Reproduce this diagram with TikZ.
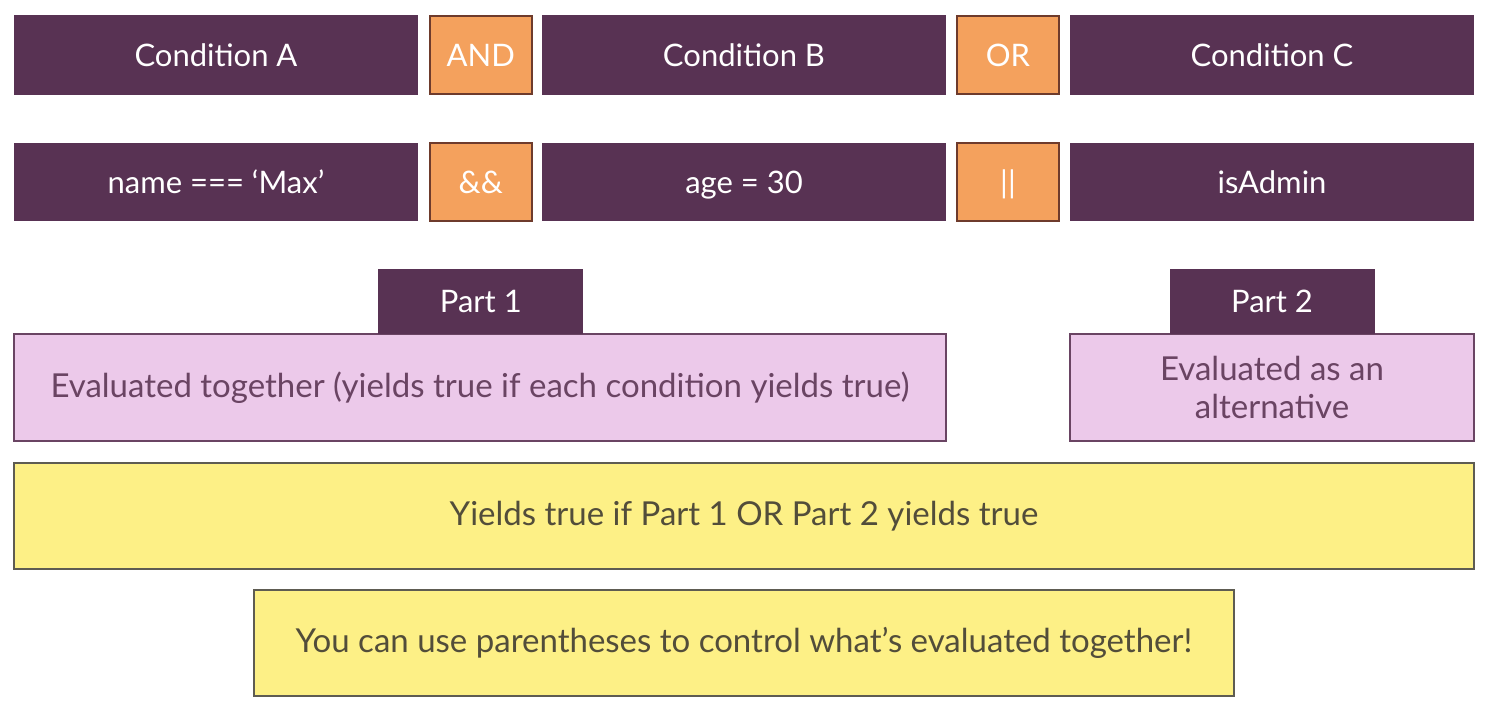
\documentclass[tikz,border=0pt]{standalone}
\usepackage{fontspec}
\setmainfont{Lato}
\usetikzlibrary{positioning}
\definecolor{plum}{HTML}{583253}
\definecolor{apricot}{HTML}{F4A15D}
\definecolor{apricotline}{HTML}{6E3B2C}
\definecolor{lilac}{HTML}{ECC9EA}
\definecolor{lilacline}{HTML}{6A4463}
\definecolor{lemon}{HTML}{FDF086}
\definecolor{lemonline}{HTML}{5E5C52}
\definecolor{lemontext}{HTML}{524D3A}
\tikzset{
	cond/.style={fill=plum, text=white, minimum width=202pt, minimum height=40pt, inner sep=0pt, outer sep=0pt, text height=11.2pt, text depth=0pt, font=\fontsize{15.5}{18}\selectfont},
	op/.style={fill=apricot, draw=apricotline, line width=0.8pt, text=white, minimum width=51pt, minimum height=39pt, inner sep=0pt, outer sep=0pt, text height=11.2pt, text depth=0pt, font=\fontsize{15.5}{18}\selectfont},
	parttab/.style={fill=plum, text=white, minimum width=102.5pt, minimum height=32.5pt, inner sep=0pt, outer sep=0pt, text height=11.2pt, text depth=0pt, font=\fontsize{15.5}{18}\selectfont},
	partbox/.style={fill=lilac, draw=lilacline, line width=0.8pt, text=lilacline, minimum height=53.5pt, inner sep=0pt, outer sep=0pt, align=center, font=\fontsize{16.5}{19}\selectfont},
	note/.style={fill=lemon, draw=lemonline, line width=0.8pt, text=lemontext, minimum height=53pt, inner sep=0pt, outer sep=0pt, font=\fontsize{16.5}{19}\selectfont}
}
\begin{document}
\begin{tikzpicture}[x=0.5pt, y=-0.5pt]
	\useasboundingbox (0,0) rectangle (1489,710);
	% conditions
	\node[cond] (condA) at (216,55) {Condition A};
	\node[op, right=5.9pt of condA] (and) {AND};
	\node[cond, right=5.1pt of and] (condB) {Condition B};
	\node[op, minimum width=51.2pt, right=5.4pt of condB] (or) {OR};
	\node[cond, right=5.4pt of or] (condC) {Condition C};
	% code
	\node[cond, minimum height=39pt] (name) at (216,182) {name === ‘Max’};
	\node[op, right=5.9pt of name] (amp) {\&\&};
	\node[cond, minimum height=39pt, right=5.1pt of amp] (age) {age = 30};
	\node[op, minimum width=51.2pt, right=5.4pt of age] (pipe) {||};
	\node[cond, minimum height=39pt, right=5.4pt of pipe] (admin) {isAdmin};
	% parts
	\node[partbox, minimum width=466pt] (together) at (480,387.5) {Evaluated together (yields true if each condition yields true)};
	\node[partbox, minimum width=202pt] (alt) at (1272,387.5) {Evaluated as an\\alternative};
	\node[parttab, above=0pt of together.north -| and] (part1) {Part 1};
	\node[parttab, above=0pt of alt] (part2) {Part 2};
	% result
	\node[note, minimum width=730pt] (result) at (744,516) {Yields true if Part 1 OR Part 2 yields true};
	\node[note, minimum width=490pt, below=10.5pt of result] (hint) {You can use parentheses to control what’s evaluated together!};
\end{tikzpicture}
\end{document}
